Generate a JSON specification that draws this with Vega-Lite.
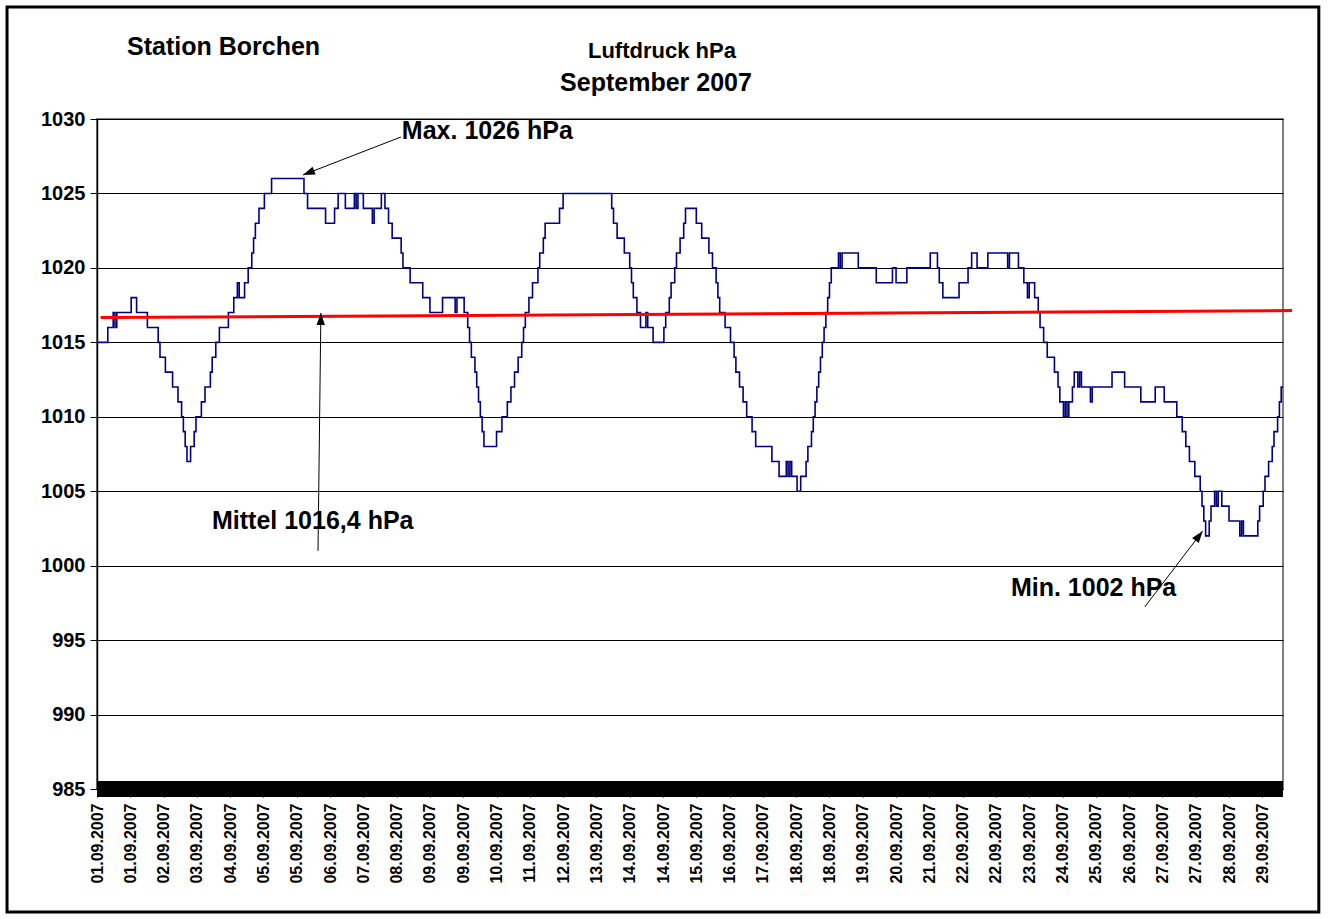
{
  "$schema": "https://vega.github.io/schema/vega-lite/v6.json",
  "width": 1186,
  "height": 670,
  "autosize": {"type": "none"},
  "padding": {"left": 97, "top": 119, "right": 45, "bottom": 130},
  "background": "white",
  "config": {
    "font": "Liberation Sans",
    "view": {"stroke": "#808080", "strokeWidth": 2}
  },
  "datasets": {
    "druck": [
      {"i":0,"p":1015},{"i":6,"p":1016},{"i":9,"p":1017},{"i":10,"p":1016},{"i":11,"p":1017},{"i":19,"p":1018},{"i":22,"p":1017},{"i":28,"p":1016},{"i":34,"p":1015},{"i":35,"p":1014},{"i":38,"p":1013},{"i":42,"p":1012},{"i":45,"p":1011},{"i":47,"p":1010},{"i":48,"p":1009},{"i":49,"p":1008},{"i":50,"p":1007},{"i":52,"p":1008},{"i":54,"p":1009},{"i":55,"p":1010},{"i":58,"p":1011},{"i":60,"p":1012},{"i":63,"p":1013},{"i":64,"p":1014},{"i":66,"p":1015},{"i":68,"p":1016},{"i":73,"p":1017},{"i":76,"p":1018},{"i":78,"p":1019},{"i":79,"p":1018},{"i":82,"p":1019},{"i":84,"p":1020},{"i":86,"p":1021},{"i":87,"p":1022},{"i":88,"p":1023},{"i":90,"p":1024},{"i":93,"p":1025},{"i":97,"p":1026},
      {"i":115,"p":1025},{"i":117,"p":1024},{"i":127,"p":1023},{"i":132,"p":1024},{"i":134,"p":1025},{"i":138,"p":1024},{"i":143,"p":1025},{"i":144,"p":1024},{"i":145,"p":1025},{"i":148,"p":1024},{"i":153,"p":1023},{"i":154,"p":1024},{"i":158,"p":1025},{"i":160,"p":1024},{"i":162,"p":1023},{"i":164,"p":1022},{"i":169,"p":1021},{"i":170,"p":1020},{"i":174,"p":1019},{"i":181,"p":1018},{"i":185,"p":1017},{"i":192,"p":1018},{"i":199,"p":1017},{"i":200,"p":1018},{"i":204,"p":1017},{"i":206,"p":1016},{"i":207,"p":1015},{"i":208,"p":1014},{"i":210,"p":1013},{"i":211,"p":1012},{"i":212,"p":1011},{"i":213,"p":1010},{"i":214,"p":1009},{"i":215,"p":1008},{"i":222,"p":1009},{"i":225,"p":1010},{"i":228,"p":1011},{"i":230,"p":1012},{"i":232,"p":1013},{"i":234,"p":1014},{"i":236,"p":1015},{"i":237,"p":1016},{"i":238,"p":1017},{"i":240,"p":1018},{"i":242,"p":1019},{"i":245,"p":1020},{"i":246,"p":1021},{"i":248,"p":1022},{"i":249,"p":1023},{"i":257,"p":1024},{"i":259,"p":1025},
      {"i":286,"p":1024},{"i":287,"p":1023},{"i":289,"p":1022},{"i":293,"p":1021},{"i":296,"p":1020},{"i":297,"p":1019},{"i":298,"p":1018},{"i":300,"p":1017},{"i":302,"p":1016},{"i":305,"p":1017},{"i":306,"p":1016},{"i":309,"p":1015},{"i":315,"p":1016},{"i":316,"p":1017},{"i":318,"p":1018},{"i":319,"p":1019},{"i":321,"p":1020},{"i":322,"p":1021},{"i":324,"p":1022},{"i":326,"p":1023},{"i":327,"p":1024},{"i":333,"p":1023},{"i":336,"p":1022},{"i":340,"p":1021},{"i":342,"p":1020},{"i":344,"p":1019},{"i":345,"p":1018},{"i":346,"p":1017},{"i":349,"p":1016},{"i":352,"p":1015},{"i":354,"p":1014},{"i":355,"p":1013},{"i":357,"p":1012},{"i":359,"p":1011},{"i":361,"p":1010},{"i":364,"p":1009},{"i":366,"p":1008},{"i":375,"p":1007},{"i":379,"p":1006},{"i":383,"p":1007},{"i":384,"p":1006},{"i":385,"p":1007},{"i":386,"p":1006},{"i":389,"p":1005},{"i":391,"p":1006},{"i":394,"p":1007},{"i":395,"p":1008},{"i":397,"p":1009},{"i":398,"p":1010},{"i":399,"p":1011},{"i":400,"p":1012},{"i":401,"p":1013},{"i":402,"p":1014},{"i":403,"p":1015},{"i":404,"p":1016},{"i":405,"p":1017},{"i":406,"p":1018},{"i":407,"p":1019},{"i":408,"p":1020},{"i":412,"p":1021},{"i":413,"p":1020},{"i":414,"p":1021},{"i":423,"p":1020},{"i":433,"p":1019},{"i":442,"p":1020},{"i":444,"p":1019},{"i":450,"p":1020},{"i":463,"p":1021},{"i":467,"p":1020},{"i":468,"p":1019},{"i":470,"p":1018},{"i":479,"p":1019},{"i":484,"p":1020},{"i":486,"p":1021},{"i":489,"p":1020},{"i":495,"p":1021},{"i":506,"p":1020},{"i":507,"p":1021},{"i":512,"p":1020},{"i":515,"p":1019},{"i":517,"p":1018},{"i":518,"p":1019},{"i":521,"p":1018},{"i":523,"p":1017},{"i":524,"p":1016},{"i":526,"p":1015},{"i":528,"p":1014},{"i":532,"p":1013},{"i":534,"p":1012},{"i":535,"p":1011},{"i":537,"p":1010},{"i":538,"p":1011},{"i":539,"p":1010},{"i":540,"p":1011},{"i":542,"p":1012},{"i":543,"p":1013},{"i":545,"p":1012},{"i":546,"p":1013},{"i":547,"p":1012},{"i":552,"p":1011},{"i":553,"p":1012},{"i":564,"p":1013},{"i":571,"p":1012},{"i":580,"p":1011},{"i":588,"p":1012},{"i":593,"p":1011},{"i":600,"p":1010},{"i":603,"p":1009},{"i":605,"p":1008},{"i":607,"p":1007},{"i":610,"p":1006},{"i":613,"p":1005},{"i":614,"p":1004},{"i":615,"p":1003},{"i":616,"p":1002},{"i":618,"p":1003},{"i":619,"p":1004},{"i":621,"p":1005},{"i":622,"p":1004},{"i":623,"p":1005},{"i":625,"p":1004},{"i":629,"p":1003},{"i":635,"p":1002},{"i":636,"p":1003},{"i":637,"p":1002},{"i":645,"p":1003},{"i":646,"p":1004},{"i":648,"p":1005},{"i":649,"p":1006},{"i":651,"p":1007},{"i":653,"p":1008},{"i":654,"p":1009},{"i":656,"p":1010},{"i":657,"p":1011},{"i":658,"p":1012},{"i":659,"p":1012}
    ],
    "trend": [{"i":2,"p":1016.66},{"i":664,"p":1017.13}],
    "pfeile": [
      {"i":168.9,"p":1028.79,"i2":114.4,"p2":1026.24},
      {"i":122.8,"p":1000.99,"i2":124.4,"p2":1016.97},
      {"i":582.2,"p":997.23,"i2":614.4,"p2":1002.33}
    ],
    "notizen": [
      {"t":"Station Borchen","i":16.7,"p":1034.84},
      {"t":"Max. 1026 hPa","i":169.4,"p":1029.19},
      {"t":"Mittel 1016,4 hPa","i":63.9,"p":1003.0},
      {"t":"Min. 1002 hPa","i":507.8,"p":998.5}
    ],
    "band": [{"i":0,"i2":659,"p":985.54,"p2":984.46}],
    "rahmen": [{"i":-50,"i2":678.9,"p":1037.52,"p2":976.74}]
  },
  "encoding": {
    "x": {
      "field": "i", "type": "quantitative",
      "scale": {"domain": [0, 659], "nice": false, "zero": false},
      "axis": {
        "title": null, "grid": false,
        "values": [0,18.5,37,55.5,74,92.5,111,129.5,148,166.5,185,203.5,222,240.5,259,277.5,296,314.5,333,351.5,370,388.5,407,425.5,444,462.5,481,499.5,518,536.5,555,573.5,592,610.5,629,647.5],
        "labelExpr": "['01.09.2007','01.09.2007','02.09.2007','03.09.2007','04.09.2007','05.09.2007','05.09.2007','06.09.2007','07.09.2007','08.09.2007','09.09.2007','09.09.2007','10.09.2007','11.09.2007','12.09.2007','13.09.2007','14.09.2007','14.09.2007','15.09.2007','16.09.2007','17.09.2007','18.09.2007','18.09.2007','19.09.2007','20.09.2007','21.09.2007','22.09.2007','22.09.2007','23.09.2007','24.09.2007','25.09.2007','26.09.2007','27.09.2007','27.09.2007','28.09.2007','29.09.2007'][round(datum.value / 18.5)]",
        "labelAngle": -90, "labelFont": "Liberation Sans", "labelFontSize": 16, "labelFontWeight": "bold", "labelColor": "black",
        "labelPadding": 6, "labelOverlap": false, "labelFlush": false, "labelBound": false,
        "tickSize": 8, "tickColor": "black", "tickWidth": 1, "domainColor": "black", "domainWidth": 1
      }
    },
    "y": {
      "field": "p", "type": "quantitative",
      "scale": {"domain": [985, 1030], "nice": false, "zero": false},
      "axis": {
        "title": null, "format": "d",
        "values": [985,990,995,1000,1005,1010,1015,1020,1025,1030],
        "grid": true, "gridColor": "black", "gridWidth": 1,
        "labelFont": "Liberation Sans", "labelFontSize": 20, "labelFontWeight": "bold", "labelColor": "black",
        "labelPadding": 5, "tickSize": 7, "tickColor": "black", "domainColor": "black", "domainWidth": 1.5
      }
    }
  },
  "layer": [
    {
      "data": {"name": "band"},
      "mark": {"type": "rect", "color": "black"},
      "encoding": {
        "x2": {"field": "i2"}, "y2": {"field": "p2"}
      }
    },
    {
      "data": {"name": "druck"},
      "mark": {"type": "line", "interpolate": "step-after", "color": "#000080", "strokeWidth": 1.6}
    },
    {
      "data": {"name": "trend"},
      "mark": {"type": "line", "color": "#FF0000", "strokeWidth": 3}
    },
    {
      "data": {"name": "pfeile"},
      "mark": {"type": "rule", "color": "black", "strokeWidth": 1},
      "encoding": {
        "x2": {"field": "i2"}, "y2": {"field": "p2"}
      }
    },
    {
      "data": {"values": [{"i": 114.4, "p": 1026.24}]},
      "mark": {"type": "point", "shape": "M0,0L-0.7,2L0.7,2Z", "filled": true, "color": "black", "opacity": 1, "size": 144, "angle": 248.8}
    },
    {
      "data": {"values": [{"i": 124.4, "p": 1016.97}]},
      "mark": {"type": "point", "shape": "M0,0L-0.7,2L0.7,2Z", "filled": true, "color": "black", "opacity": 1, "size": 144, "angle": 0.7}
    },
    {
      "data": {"values": [{"i": 614.4, "p": 1002.33}]},
      "mark": {"type": "point", "shape": "M0,0L-0.7,2L0.7,2Z", "filled": true, "color": "black", "opacity": 1, "size": 144, "angle": 37.4}
    },
    {
      "data": {"name": "notizen"},
      "mark": {"type": "text", "align": "left", "baseline": "middle", "font": "Liberation Sans", "fontSize": 25, "fontWeight": "bold", "color": "black"},
      "encoding": {"text": {"field": "t"}}
    },
    {
      "data": {"values": [{"t": "Luftdruck hPa", "i": 313.9, "p": 1034.57}]},
      "mark": {"type": "text", "align": "center", "baseline": "middle", "font": "Liberation Sans", "fontSize": 22, "fontWeight": "bold", "color": "black"},
      "encoding": {"text": {"field": "t"}}
    },
    {
      "data": {"values": [{"t": "September 2007", "i": 310.6, "p": 1032.42}]},
      "mark": {"type": "text", "align": "center", "baseline": "middle", "font": "Liberation Sans", "fontSize": 25, "fontWeight": "bold", "color": "black"},
      "encoding": {"text": {"field": "t"}}
    },
    {
      "data": {"name": "rahmen"},
      "mark": {"type": "rect", "filled": false, "fill": null, "stroke": "black", "strokeWidth": 3},
      "encoding": {
        "x2": {"field": "i2"}, "y2": {"field": "p2"}
      }
    }
  ]
}
